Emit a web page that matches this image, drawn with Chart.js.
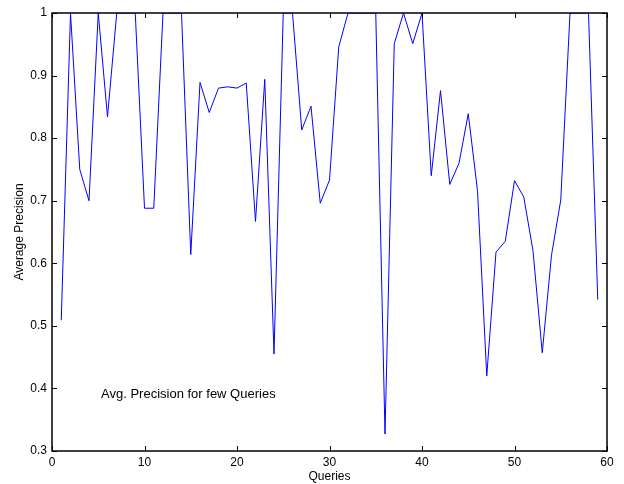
<!DOCTYPE html>
<html>
<head>
<meta charset="utf-8">
<script src="https://cdn.jsdelivr.net/npm/chart.js@4.4.1/dist/chart.umd.min.js"></script>
<style>
html,body{margin:0;padding:0;background:#fff;}
#wrap{width:624px;height:484px;}
</style>
</head>
<body>
<div id="wrap"><canvas id="myChart" width="624" height="484"></canvas></div>
<script>
var queries=[];
for(var q=1;q<=59;q++){queries.push(q);}
var avgPrecision=[
0.509,1,0.75,0.70,1,0.834,1,1,1,0.688,
0.688,1,1,1,0.614,0.889,0.841,0.880,0.882,0.880,
0.888,0.667,0.894,0.455,1,1,0.813,0.851,0.696,0.733,
0.946,1,1,1,1,0.327,0.951,1,0.951,1,
0.740,0.876,0.726,0.760,0.839,0.716,0.420,0.618,0.635,0.732,
0.706,0.620,0.457,0.613,0.701,1,1,1,0.542
];
var xTicks=[0,10,20,30,40,50,60];
var yTicks=[0.3,0.4,0.5,0.6,0.7,0.8,0.9,1];
var noteText="Avg. Precision for few Queries";
var notePos={x:5.3,y:0.39};

var points=queries.map(function(q,i){return {x:q,y:avgPrecision[i]};});
var fontFamily="'Liberation Sans', Arial, sans-serif";

// box + inward ticks + text note
var boxPlugin={
id:'boxPlugin',
afterDraw:function(chart){
var ctx=chart.ctx,a=chart.chartArea,xs=chart.scales.x,ys=chart.scales.y;
ctx.save();
ctx.strokeStyle='#000';
ctx.lineWidth=1;
ctx.beginPath();
xTicks.forEach(function(v){
var px=Math.round(xs.getPixelForValue(v))+0.5;
ctx.moveTo(px,a.bottom);ctx.lineTo(px,a.bottom-5);
ctx.moveTo(px,a.top);ctx.lineTo(px,a.top+5);
});
yTicks.forEach(function(v){
var py=Math.round(ys.getPixelForValue(v))+0.5;
ctx.moveTo(a.left,py);ctx.lineTo(a.left+5,py);
ctx.moveTo(a.right,py);ctx.lineTo(a.right-5,py);
});
ctx.stroke();
ctx.lineWidth=1.5;
ctx.strokeRect(a.left,a.top,a.right-a.left,a.bottom-a.top);
ctx.fillStyle='#000';
ctx.font='13px '+fontFamily;
ctx.textAlign='left';
ctx.textBaseline='middle';
ctx.fillText(noteText,xs.getPixelForValue(notePos.x),ys.getPixelForValue(notePos.y));
ctx.restore();
}
};

new Chart(document.getElementById('myChart').getContext('2d'),{
type:'line',
data:{datasets:[{
label:'Average Precision',
data:points,
borderColor:'#0000ff',
borderWidth:1,
pointRadius:0,
lineTension:0,
fill:false
}]},
options:{
responsive:false,
animation:false,
events:[],
layout:{padding:{top:13,right:17,left:0,bottom:0}},
plugins:{legend:{display:false},tooltip:{enabled:false}},
scales:{
x:{
type:'linear',
min:0,max:60,
afterFit:function(s){s.height=33;},
afterBuildTicks:function(s){s.ticks=xTicks.map(function(v){return {value:v};});},
grid:{display:false,drawTicks:false},
border:{display:false},
ticks:{color:'#000',padding:4,maxRotation:0,font:{family:fontFamily,size:12}},
title:{display:true,text:'Queries',color:'#000',font:{family:fontFamily,size:12},padding:{top:0,bottom:0}}
},
y:{
min:0.3,max:1,
afterFit:function(s){s.width=52;},
afterBuildTicks:function(s){s.ticks=yTicks.map(function(v){return {value:v};});},
grid:{display:false,drawTicks:false},
border:{display:false},
ticks:{color:'#000',padding:5,font:{family:fontFamily,size:12},
callback:function(v){return v===1?'1':v.toFixed(1);}},
title:{display:true,text:'Average Precision',color:'#000',font:{family:fontFamily,size:12},padding:{top:12,bottom:0}}
}
}
},
plugins:[boxPlugin]
});
</script>
</body>
</html>
